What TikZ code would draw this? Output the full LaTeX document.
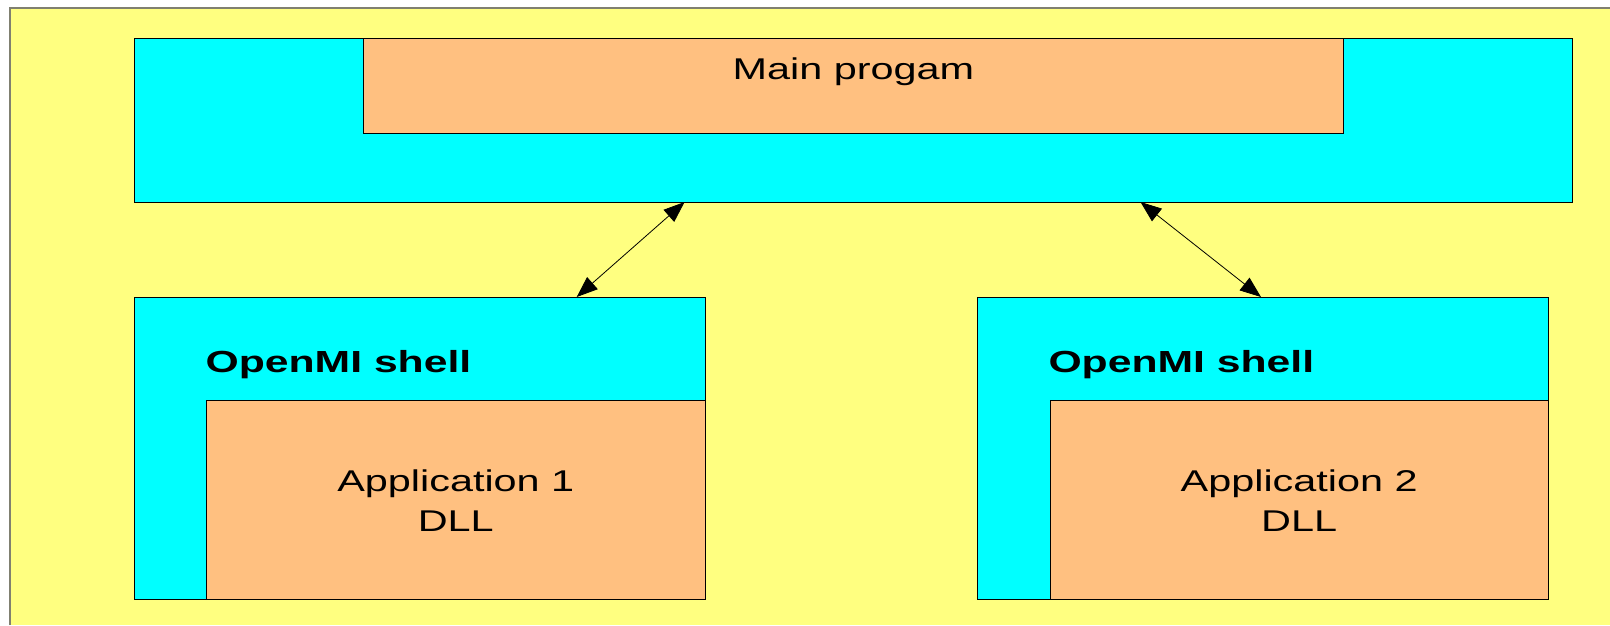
\documentclass[tikz,border=0pt]{standalone}
\usepackage{fontspec}
\usetikzlibrary{arrows.meta}
\newfontfamily\labfont[FakeStretch=1.38]{Liberation Sans}
\newfontfamily\boldlabfont[FakeStretch=1.40]{Liberation Sans Bold}
\definecolor{bgyellow}{RGB}{255,255,128}
\definecolor{shellcyan}{RGB}{0,255,255}
\definecolor{apporange}{RGB}{255,192,128}
\definecolor{framegray}{RGB}{128,128,112}
\tikzset{
  box/.style={draw=black, line width=1pt, rectangle, inner sep=0pt, outer sep=0pt, anchor=north west},
  shellbox/.style={box, fill=shellcyan},
  appbox/.style={box, fill=apporange},
  lbl/.style={inner sep=0pt, font=\labfont\fontsize{30}{39.3}\selectfont},
  blbl/.style={inner sep=0pt, font=\boldlabfont\fontsize{30.5}{39.3}\selectfont},
  link/.style={line width=0.8pt, {Triangle[length=21pt,width=16pt]}-{Triangle[length=21pt,width=16pt]}}
}
\begin{document}
\begin{tikzpicture}[x=1pt,y=-1pt]
\useasboundingbox (0,0) rectangle (1610,625);
\fill[white] (0,0) rectangle (1610,625);
\fill[bgyellow] (10,8) rectangle (1610,625);
\draw[framegray, line width=1.2pt] (10,625) -- (10,8) -- (1610,8);

% top shell and main program
\node[shellbox, minimum width=1438pt, minimum height=164pt] (top) at (134.3,38) {};
\node[appbox, minimum width=980pt, minimum height=95.3pt] (main) at (363.3,38) {};
\node[lbl, anchor=base] (maintxt) at (853.5,79) {Main progam};

% left shell
\node[shellbox, minimum width=570.7pt, minimum height=302pt] (shell1) at (134.3,297) {};
\node[appbox, minimum width=498.3pt, minimum height=198.7pt] (app1) at (206.7,400.3) {};
\node[blbl, anchor=base west] (shell1txt) at (205.4,372.5) {OpenMI shell};
\node[lbl, anchor=base, align=center] (app1txt) at (455.8,531) {Application 1\\DLL};

% right shell
\node[shellbox, minimum width=570.8pt, minimum height=302pt] (shell2) at (977.5,297) {};
\node[appbox, minimum width=498.3pt, minimum height=198.7pt] (app2) at (1050,400.3) {};
\node[blbl, anchor=base west] (shell2txt) at (1048.3,372.5) {OpenMI shell};
\node[lbl, anchor=base, align=center] (app2txt) at (1299.2,531) {Application 2\\DLL};

% connectors
\draw[link] ([xshift=550.3pt]top.south west) -- ([xshift=442.4pt]shell1.north west);
\draw[link] ([xshift=1006.2pt]top.south west) -- ([xshift=283.5pt]shell2.north west);
\end{tikzpicture}
\end{document}
